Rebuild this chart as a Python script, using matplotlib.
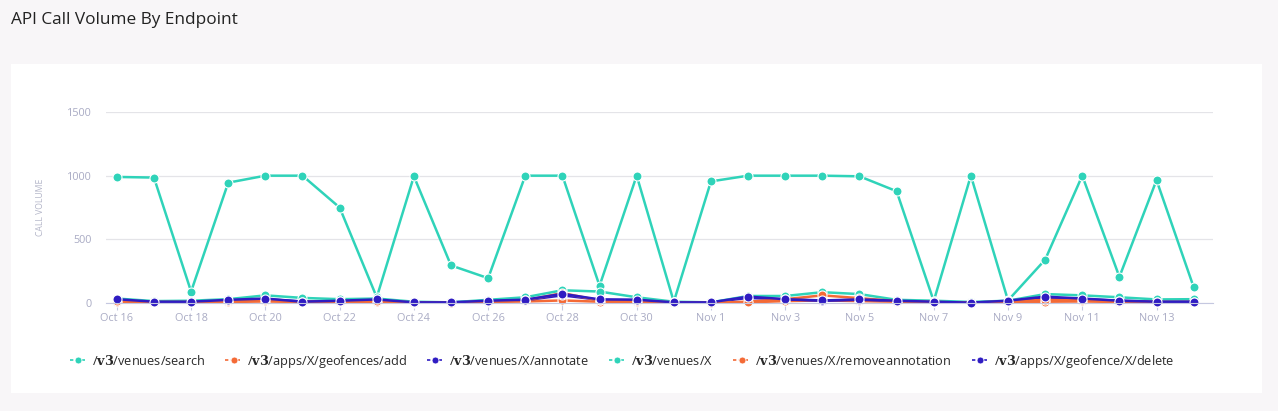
import numpy as np
import pandas as pd
import matplotlib.pyplot as plt
from matplotlib.patches import Rectangle

plt.rcParams['font.family'] = ['Open Sans', 'DejaVu Sans']
plt.rcParams['mathtext.fontset'] = 'dejavuserif'

TEAL = '#2fd3b9'
ORANGE = '#f46a36'
INDIGO = '#2f1cc2'

dates = pd.date_range('2019-10-16', periods=30, freq='D')
tick_dates = dates[::2]
tick_labels = [f'{d:%b} {d.day}' for d in tick_dates]

# call volume per endpoint per day
venues_search = [990, 985, 90, 945, 1000, 1000, 750, 45, 995, 295, 195, 1000, 1000, 135, 1000,
                 10, 955, 1000, 1000, 1000, 995, 878, 15, 1000, 20, 340, 1000, 205, 965, 125]
geofences_add = [10, 5, 5, 8, 12, 8, 8, 5, 3, 3, 8, 12, 20, 10, 8,
                 3, 2, 5, 15, 20, 15, 10, 5, 2, 8, 10, 12, 8, 5, 5]
venues_annotate = [25, 10, 10, 22, 30, 12, 18, 25, 5, 5, 15, 22, 60, 25, 22,
                   5, 5, 40, 28, 18, 25, 18, 10, 3, 15, 40, 30, 18, 10, 10]
venues_x = [35, 15, 18, 30, 60, 40, 30, 35, 10, 5, 25, 45, 100, 90, 45,
            10, 5, 55, 55, 85, 70, 25, 18, 8, 18, 70, 60, 45, 28, 30]
remove_annotation = [15, 8, 8, 15, 20, 10, 12, 15, 5, 3, 12, 20, 78, 20, 15,
                     5, 3, 10, 30, 60, 38, 15, 8, 3, 12, 25, 20, 15, 8, 8]
geofence_delete = [30, 10, 10, 25, 35, 10, 18, 28, 5, 5, 18, 26, 72, 28, 26,
                   5, 5, 50, 30, 20, 28, 18, 10, 3, 18, 50, 35, 18, 10, 10]

V3 = r'/$\mathbf{v3}$/'
series = [
    (V3 + 'venues/search', venues_search, TEAL),
    (V3 + 'apps/X/geofences/add', geofences_add, ORANGE),
    (V3 + 'venues/X/annotate', venues_annotate, INDIGO),
    (V3 + 'venues/X', venues_x, TEAL),
    (V3 + 'venues/X/removeannotation', remove_annotation, ORANGE),
    (V3 + 'apps/X/geofence/X/delete', geofence_delete, INDIGO),
]

W, H = 1278, 411
fig = plt.figure(figsize=(W / 100, H / 100), dpi=100, facecolor='#f8f6f8')

# white card behind the chart
fig.patches.append(Rectangle((11 / W, 1 - 393 / H), 1251 / W, 329 / H,
                             transform=fig.transFigure, facecolor='white',
                             edgecolor='none', zorder=-5))
fig.text(11 / W, 1 - 20 / H, 'API Call Volume By Endpoint', fontsize=12.4,
         color='#222222', va='center', ha='left')

ax = fig.add_axes([106 / W, 1 - 303 / H, 1107 / W, 191 / H])
ax.set_zorder(2)
ax.set_facecolor('none')

for label, values, color in series:
    ax.plot(dates, values, color=color, lw=1.8, marker='o', ms=6.5,
            mec='white', mew=0.8, clip_on=False, label=label)

ax.set_ylim(0, 1500)
ax.set_yticks([0, 500, 1000, 1500])
ax.set_xlim(dates[0] - pd.Timedelta(hours=7), dates[-1] + pd.Timedelta(hours=12.5))
ax.set_xticks(tick_dates)
ax.set_xticklabels(tick_labels)

ax.grid(axis='y', color='#e4e4e8', lw=0.9)
ax.set_axisbelow(True)
for s in ['top', 'right', 'left']:
    ax.spines[s].set_visible(False)
ax.spines['bottom'].set_color('#c5c8e0')
ax.tick_params(axis='x', colors='#c5c8e0', length=5, width=0.8, labelcolor='#a9abc4',
               labelsize=7.8, pad=2)
ax.tick_params(axis='y', length=0, labelcolor='#a9abc4', labelsize=7.8, pad=10)
ax.set_ylabel('CALL VOLUME', fontsize=6.2, color='#b3b5c8', labelpad=16)

# legend uses dashed line handles
leg_handles = []
for label, values, color in series:
    h, = ax.plot([], [], color=color, lw=1.2, ls=(0, (2, 1.5)), marker='o', ms=5,
                 mec='white', mew=0.6, label=label)
    leg_handles.append(h)
fig.legend(handles=leg_handles, loc='center', bbox_to_anchor=(622 / W, 1 - 361 / H),
           ncol=6, frameon=False, fontsize=9.2, handlelength=1.3, handletextpad=0.4,
           columnspacing=1.6, labelcolor='#2a2a2a')

fig.savefig('out.png', dpi=100, facecolor=fig.get_facecolor())
